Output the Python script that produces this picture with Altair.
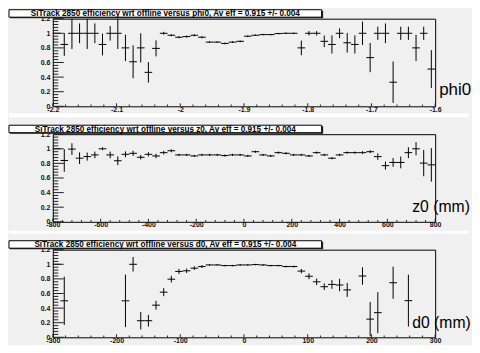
import altair as alt
import pandas as pd

# ---------------- data ----------------
N_BINS = 50
PHI_RANGE = [-2.2, -1.6]
Z_RANGE = [-800, 800]
D_RANGE = [-300, 300]

PHI_EFF = [1.0, 0.847, 1.0, 1.0, 1.0, 1.0, 0.847, 1.0, 1.0, 0.80,
           0.61, 0.80, 0.465, 0.793, 1.0, 0.973, 0.946, 0.955, 0.973, 0.946,
           0.879, 0.879, 0.861, 0.879, 0.89, 0.96, 0.973, 0.982, 0.982, 0.996,
           1.0, 1.0, 0.80, 1.0, 1.0, 0.89, 0.847, 1.0, 0.87, 0.847,
           1.0, 0.667, 1.0, 1.0, 0.33, 1.0, 1.0, 0.80, 1.0, 0.51]
PHI_ERR = [0.0, 0.157, 0.215, 0.135, 0.215, 0.135, 0.15, 0.10, 0.215, 0.18,
           0.225, 0.20, 0.14, 0.11, 0.02, 0.015, 0.015, 0.015, 0.015, 0.015,
           0.012, 0.012, 0.012, 0.012, 0.012, 0.012, 0.01, 0.01, 0.01, 0.01,
           0.01, 0.01, 0.10, 0.03, 0.03, 0.08, 0.125, 0.067, 0.135, 0.125,
           0.16, 0.20, 0.09, 0.135, 0.283, 0.09, 0.09, 0.18, 0.09, 0.26]

Z_EFF = [1.0, 0.84, 0.996, 0.871, 0.893, 0.916, 1.0, 0.916, 0.836, 0.924,
         0.938, 0.884, 0.924, 0.902, 0.947, 0.973, 0.916, 0.916, 0.902, 0.916,
         0.916, 0.916, 0.907, 0.916, 0.916, 0.902, 0.96, 0.916, 0.902, 0.947,
         0.938, 0.916, 0.916, 0.902, 0.947, 0.916, 0.871, 0.916, 0.947, 0.947,
         0.947, 0.96, 0.893, 0.769, 0.813, 0.813, 0.947, 1.0, 0.804, 0.78]
Z_ERR = [0.0, 0.155, 0.08, 0.08, 0.055, 0.045, 0.02, 0.045, 0.06, 0.04,
         0.035, 0.03, 0.03, 0.03, 0.025, 0.02, 0.015, 0.015, 0.015, 0.015,
         0.015, 0.015, 0.015, 0.015, 0.015, 0.015, 0.015, 0.015, 0.015, 0.015,
         0.015, 0.015, 0.015, 0.015, 0.015, 0.015, 0.015, 0.015, 0.015, 0.015,
         0.02, 0.02, 0.045, 0.055, 0.06, 0.08, 0.075, 0.09, 0.18, 0.23]

D_EFF = [1.0, 0.50, None, None, None, None, None, None, None, 0.50,
         1.0, 0.227, 0.227, 0.44, 0.618, 0.796, 0.902, 0.911, 0.947, 0.969,
         0.991, 0.991, 0.982, 0.982, 0.991, 0.991, 0.996, 0.991, 0.982, 0.982,
         0.969, 0.969, 0.907, 0.836, 0.76, 0.693, 0.724, 0.716, 0.649, None,
         0.84, 0.249, 0.338, None, 0.747, None, 0.502, None, None, None]
D_ERR = [0.0, 0.33, 0, 0, 0, 0, 0, 0, 0, 0.36,
         0.10, 0.12, 0.08, 0.06, 0.055, 0.045, 0.035, 0.03, 0.025, 0.02,
         0.012, 0.01, 0.01, 0.01, 0.01, 0.01, 0.01, 0.01, 0.01, 0.01,
         0.012, 0.012, 0.03, 0.04, 0.045, 0.045, 0.06, 0.085, 0.095, 0,
         0.12, 0.235, 0.28, 0, 0.22, 0, 0.355, 0, 0, 0]

TITLES = [
    "SiTrack 2850 efficiency  wrt offline versus phi0, Av eff = 0.915 +/- 0.004",
    "SiTrack 2850 efficiency  wrt offline versus z0, Av eff = 0.915 +/- 0.004",
    "SiTrack 2850 efficiency  wrt offline versus d0, Av eff = 0.915 +/- 0.004",
]
AXIS_NAMES = ["phi0", "z0 (mm)", "d0 (mm)"]

PHI_TICKS = [-2.2, -2.1, -2.0, -1.9, -1.8, -1.7, -1.6]
Z_TICKS = [-800, -600, -400, -200, 0, 200, 400, 600, 800]
D_TICKS = [-300, -200, -100, 0, 100, 200, 300]
Y_TICKS = [0, 0.2, 0.4, 0.6, 0.8, 1.0, 1.2]

# ---------------- style ----------------
W, H = 384, 88
SPACING = 28
BG = "#f0f0f0"
FONT = "Liberation Sans"
LBL = "#111111"


def bins_frame(rng, vals, errs):
    lo, hi = rng
    bw = (hi - lo) / N_BINS
    rows = []
    for k, (v, e) in enumerate(zip(vals, errs)):
        if v is None:
            continue
        rows.append(dict(xlo=lo + k * bw, xhi=lo + (k + 1) * bw,
                         xc=lo + (k + 0.5) * bw, y=v, ylo=v - e, yhi=v + e))
    return pd.DataFrame(rows)


def minor_list(lo, hi, step):
    n = int(round((hi - lo) / step))
    return [round(lo + i * step, 6) for i in range(n + 1)]


ONE = pd.DataFrame({"a": [0]})
LABEL_EXPR = "(datum.value < 0 ? '-' : '') + format(abs(datum.value), '~g')"


def panel(rng, vals, errs, xticks, xminor, title, name, name_x, name_y,
          name_size, band=None):
    df = bins_frame(rng, vals, errs)
    xs = alt.Scale(domain=rng, nice=False, zero=False)
    ys = alt.Scale(domain=[0, 1.2], nice=False, zero=False)
    xaxis = alt.Axis(values=xticks, title=None, grid=False, domain=False,
                     ticks=False, labelFont=FONT, labelFontSize=7,
                     labelFontWeight="bold", labelColor=LBL, labelPadding=-1,
                     labelExpr=LABEL_EXPR, labelFlush=False,
                     labelOverlap=False, labelBound=False)
    yaxis = alt.Axis(values=Y_TICKS, title=None, grid=False, domain=False,
                     ticks=False, labelFont=FONT, labelFontSize=7,
                     labelFontWeight="bold", labelColor=LBL, labelPadding=3,
                     labelExpr=LABEL_EXPR, labelFlush=False,
                     labelOverlap=False, labelBound=False)

    def X(f):
        return alt.X(f, scale=xs, axis=xaxis, title=None)

    def Y(f):
        return alt.Y(f, scale=ys, axis=yaxis, title=None)

    hbar = alt.Chart(df).mark_rule(color="black", strokeWidth=1).encode(
        x=X("xlo:Q"), x2="xhi:Q", y=Y("y:Q"))
    vbar = alt.Chart(df).mark_rule(color="black", strokeWidth=1,
                                   clip=True).encode(
        x=X("xc:Q"), y=Y("ylo:Q"), y2="yhi:Q")

    ymaj = pd.DataFrame({"t": Y_TICKS})
    ymin = pd.DataFrame({"t": [t for t in minor_list(0, 1.2, 0.04)
                               if min(abs(t - m) for m in Y_TICKS) > 1e-6]})
    xmaj = pd.DataFrame({"t": xticks})
    xmin = pd.DataFrame({"t": [t for t in minor_list(rng[0], rng[1], xminor)
                               if min(abs(t - m) for m in xticks) > 1e-6]})
    c = "#222222"
    ytm = alt.Chart(ymaj).mark_rule(color=c, strokeWidth=1).encode(
        y=Y("t:Q"), x=alt.value(0), x2=alt.value(11))
    ytn = alt.Chart(ymin).mark_rule(color=c, strokeWidth=1).encode(
        y=Y("t:Q"), x=alt.value(0), x2=alt.value(5.5))
    xtm = alt.Chart(xmaj).mark_rule(color=c, strokeWidth=1).encode(
        x=X("t:Q"), y=alt.value(H), y2=alt.value(H - 3))
    xtn = alt.Chart(xmin).mark_rule(color=c, strokeWidth=1).encode(
        x=X("t:Q"), y=alt.value(H), y2=alt.value(H - 1.8))

    shadow = alt.Chart(ONE).mark_rect(fill="#222222").encode(
        x=alt.value(-43), x2=alt.value(271.5),
        y=alt.value(-8), y2=alt.value(-0.5))
    box = alt.Chart(ONE).mark_rect(fill="white", stroke="black",
                                   strokeWidth=1).encode(
        x=alt.value(-44), x2=alt.value(270),
        y=alt.value(-9), y2=alt.value(-1.5))
    ttl = alt.Chart(ONE).mark_text(font=FONT, fontSize=8.2, fontWeight="bold",
                                   color="black", align="center",
                                   baseline="alphabetic").encode(
        x=alt.value(113), y=alt.value(-2.5), text=alt.value(title))
    nm = alt.Chart(ONE).mark_text(font=FONT, fontSize=name_size,
                                  color="black", align="left",
                                  baseline="alphabetic").encode(
        x=alt.value(name_x), y=alt.value(name_y), text=alt.value(name))

    layers = [hbar]
    if band is not None:
        layers.append(alt.Chart(ONE).mark_rect(fill="white").encode(
            x=alt.value(-44), x2=alt.value(418),
            y=alt.value(band[0]), y2=alt.value(band[1])))
    layers += [ytn, ytm, xtn, xtm, vbar, shadow, box, ttl, nm]
    return alt.layer(*layers).properties(width=W, height=H)


p1 = panel(PHI_RANGE, PHI_EFF, PHI_ERR, PHI_TICKS, 0.02, TITLES[0],
           AXIS_NAMES[0], 388, H - 11, 17, band=(H + 7, H + 11))
p2 = panel(Z_RANGE, Z_EFF, Z_ERR, Z_TICKS, 40, TITLES[1],
           AXIS_NAMES[1], 361, H - 10, 15.8, band=(H + 9, H + 12))
p3 = panel(D_RANGE, D_EFF, D_ERR, D_TICKS, 20, TITLES[2],
           AXIS_NAMES[2], 361, H - 9, 15.8)

chart = alt.vconcat(p1, p2, p3, spacing=SPACING, bounds="flush", padding=0,
                    background=BG).configure_view(stroke="black",
                                                  strokeWidth=1)

chart.save("out.html", embed_options={"renderer": "svg", "actions": False})
